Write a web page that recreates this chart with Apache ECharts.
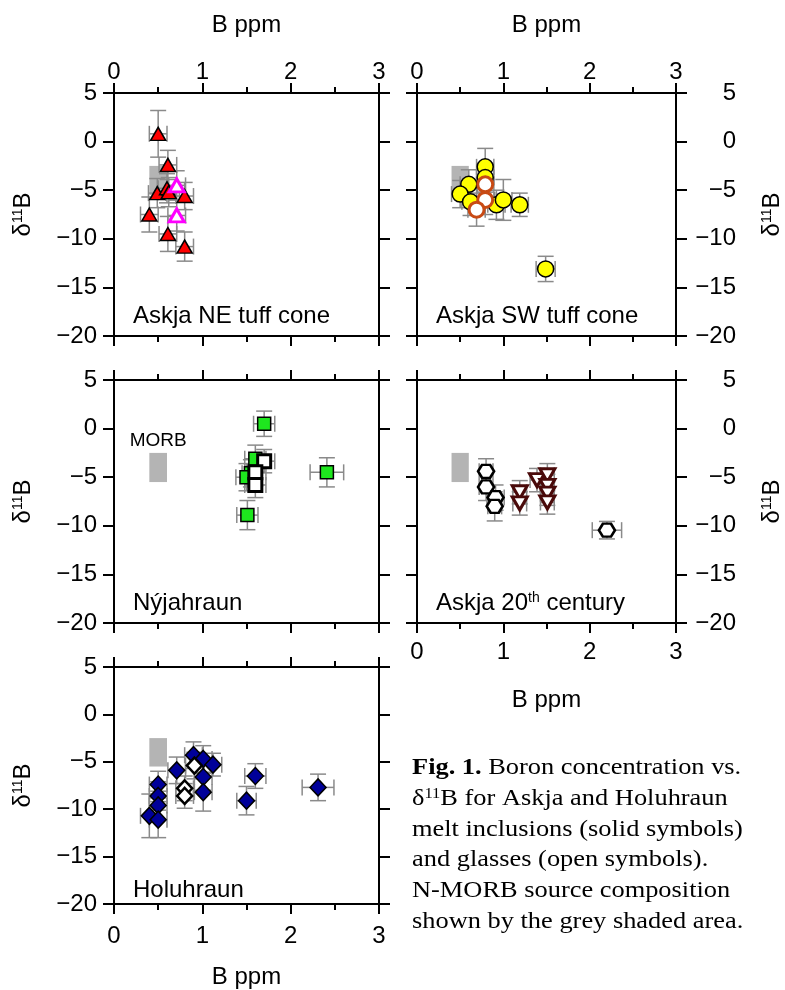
<!DOCTYPE html>
<html><head><meta charset="utf-8">
<script src="https://cdn.jsdelivr.net/npm/echarts@6/dist/echarts.min.js"></script>
<style>html,body{margin:0;padding:0;background:#fff}#c{width:785px;height:990px}</style>
</head><body><div id="c"></div><script>
// ---------- data ----------
const xTicks = [0, 1, 2, 3];
const yTicks = [5, 0, -5, -10, -15, -20];
// MORB source box: [Bmin, Bmax, d11Bmin, d11Bmax]
const morbBox = [[0.4, 0.6, -5.5, -2.5]];
// each point: [B ppm, d11B, B error, d11B error]
const neTuffSolid = [
  [0.50, 0.8, 0.10, 2.4], [0.61, -2.4, 0.10, 1.5], [0.49, -5.3, 0.10, 1.5],
  [0.60, -4.8, 0.10, 1.5], [0.62, -5.2, 0.12, 1.5], [0.80, -5.6, 0.10, 1.4],
  [0.40, -7.5, 0.10, 1.8], [0.61, -9.5, 0.10, 1.8], [0.80, -10.8, 0.10, 1.5]
];
const neTuffOpen = [[0.71, -4.5, 0.10, 1.5], [0.71, -7.6, 0.10, 1.6]];
const swTuffSolid = [
  [0.79, -2.6, 0.10, 1.9], [0.79, -3.7, 0.10, 1.5], [0.60, -4.4, 0.10, 1.5],
  [0.50, -5.4, 0.10, 1.4], [0.62, -6.2, 0.10, 1.4], [0.92, -6.5, 0.10, 1.5],
  [1.00, -6.0, 0.10, 2.1], [1.19, -6.5, 0.10, 1.2], [1.49, -13.1, 0.11, 1.3]
];
const swTuffOpen = [[0.79, -4.4, 0.10, 1.5], [0.79, -6.0, 0.10, 1.5], [0.69, -7.0, 0.10, 1.7]];
const nyjaSolid = [
  [1.70, 0.5, 0.12, 1.3], [1.60, -3.1, 0.12, 1.4], [1.55, -4.6, 0.10, 1.4],
  [1.50, -5.0, 0.12, 1.4], [2.41, -4.5, 0.19, 1.5], [1.51, -8.9, 0.12, 1.5]
];
const nyjaOpen = [[1.70, -3.35, 0.12, 1.2], [1.60, -4.5, 0.12, 1.4], [1.60, -5.8, 0.12, 1.3]];
const c20Glass = [
  [0.80, -4.4, 0.08, 1.3], [0.80, -6.0, 0.08, 1.4], [0.91, -7.1, 0.10, 1.3],
  [0.90, -8.0, 0.08, 1.5], [2.20, -10.45, 0.17, 0.9]
];
const c20Tri = [
  [1.19, -6.55, 0.08, 1.2], [1.19, -7.7, 0.08, 1.2], [1.39, -5.3, 0.08, 1.2],
  [1.51, -4.8, 0.08, 1.2], [1.51, -5.9, 0.08, 1.2], [1.51, -6.7, 0.08, 1.2],
  [1.51, -7.6, 0.08, 1.2]
];
const holuSolid = [
  [0.50, -7.4, 0.10, 1.4], [0.50, -8.6, 0.10, 1.5], [0.50, -9.6, 0.10, 1.5],
  [0.40, -10.7, 0.10, 2.3], [0.50, -11.1, 0.10, 1.9], [0.71, -5.9, 0.10, 1.4],
  [0.90, -4.3, 0.10, 1.4], [1.01, -4.7, 0.10, 1.4], [1.12, -5.3, 0.10, 1.2],
  [1.01, -6.6, 0.10, 1.4], [1.01, -8.2, 0.10, 2.0], [1.60, -6.5, 0.12, 1.3],
  [1.50, -9.1, 0.11, 1.5], [2.31, -7.7, 0.18, 1.4]
];
const holuOpen = [[0.91, -5.4, 0.10, 1.4], [0.80, -7.8, 0.10, 1.3], [0.80, -8.6, 0.10, 1.3]];

const captionLines = [
  '{b|Fig. 1.} Boron concentration vs.',
  'δ{s|11}B for Askja and Holuhraun',
  'melt inclusions (solid symbols)',
  'and glasses (open symbols).',
  'N-MORB source composition',
  'shown by the grey shaded area.'
];

// ---------- layout ----------
const FONT = 'Liberation Sans, Arial, Helvetica, sans-serif';
const FS = 24;
const W = 265, H = 243;
const panels = [
  {left: 114, top: 93, label: 'Askja NE tuff cone', xTop: true, xBottom: false, yLeft: true},
  {left: 417, top: 93, label: 'Askja SW tuff cone', xTop: true, xBottom: false, yLeft: false},
  {left: 114, top: 380, label: 'Nýjahraun', xTop: false, xBottom: false, yLeft: true, morbLabel: true},
  {left: 417, top: 380, label: '{n|Askja 20}{s|th}{n| century}', xTop: false, xBottom: true, yLeft: false, bGap: 65, bMargin: 17},
  {left: 114, top: 667, label: 'Holuhraun', xTop: false, xBottom: true, yLeft: true, bGap: 61, bMargin: 20}
];

const fmtY = v => (v < 0 ? '\u2212' + Math.abs(v) : String(v));
const fmtX = v => (xTicks.indexOf(v) >= 0 ? String(v) : '');
const lineSt = {color: '#000', width: 2};

const grids = [], xAxes = [], yAxes = [], series = [], graphics = [];
const yName = '{a|δ}{s|11}{a|B}';
const richName = {
  a: {fontSize: FS, fontFamily: FONT, color: '#000'},
  s: {fontSize: 14, fontFamily: FONT, color: '#000', verticalAlign: 'top', lineHeight: FS},
  n: {fontSize: FS, fontFamily: FONT, color: '#000'}
};

panels.forEach((p, g) => {
  grids.push({left: p.left, top: p.top, width: W, height: H, show: false});
  ['bottom', 'top'].forEach(pos => {
    const showLab = (pos === 'top' && p.xTop) || (pos === 'bottom' && p.xBottom);
    xAxes.push({
      gridIndex: g, type: 'value', position: pos, min: 0, max: 3, interval: 1,
      axisLine: {show: true, onZero: false, lineStyle: lineSt},
      axisTick: {show: true, inside: false, length: 10, lineStyle: {color: '#000', width: 2}},
      minorTick: {show: true, splitNumber: 2, length: 6, lineStyle: {color: '#000', width: 2}},
      splitLine: {show: false}, minorSplitLine: {show: false},
      axisLabel: {show: showLab, formatter: fmtX, fontSize: FS, fontFamily: FONT, color: '#000',
                  margin: pos === 'top' ? 9 : (p.bMargin || 14)},
      name: showLab ? 'B ppm' : '', nameLocation: 'middle',
      nameGap: pos === 'top' ? 56 : (p.bGap || 60),
      nameTextStyle: {fontSize: FS, fontFamily: FONT, color: '#000'}
    });
  });
  ['left', 'right'].forEach(pos => {
    const showLab = (pos === 'left') === p.yLeft;
    yAxes.push({
      gridIndex: g, type: 'value', position: pos, min: -20, max: 5, interval: 5,
      axisLine: {show: true, onZero: false, lineStyle: lineSt},
      axisTick: {show: true, inside: false, length: 11, lineStyle: {color: '#000', width: 2}},
      splitLine: {show: false},
      axisLabel: {show: showLab, formatter: fmtY, fontSize: FS, fontFamily: FONT, color: '#000',
                  align: 'right', margin: pos === 'left' ? 17 : 60},
      name: showLab ? yName : '', nameLocation: 'middle', nameRotate: 90,
      nameGap: pos === 'left' ? 79 : 84,
      nameTextStyle: {rich: richName}
    });
  });
  graphics.push({
    type: 'text', left: p.left + 19, top: p.top + H - 32, z: 100,
    style: {text: p.label, rich: richName, font: FS + 'px ' + FONT, fill: '#000'}
  });
});

function morbRender(showLabel) {
  return function (params, api) {
    const a = api.coord([api.value(0), api.value(3)]);
    const b = api.coord([api.value(1), api.value(2)]);
    const children = [{type: 'rect', shape: {x: a[0], y: a[1], width: b[0] - a[0], height: b[1] - a[1]},
                       style: {fill: '#b4b4b4'}}];
    if (showLabel) {
      children.push({type: 'text', style: {text: 'MORB', x: (a[0] + b[0]) / 2, y: a[1] - 3,
        align: 'center', verticalAlign: 'bottom', font: '19px ' + FONT, fill: '#000'}});
    }
    return {type: 'group', children};
  };
}
function errRender(params, api) {
  const x = api.value(0), y = api.value(1), ex = api.value(2), ey = api.value(3);
  const c = api.coord([x, y]);
  const l = api.coord([x - ex, y])[0], r = api.coord([x + ex, y])[0];
  const t = api.coord([x, y + ey])[1], b = api.coord([x, y - ey])[1];
  const cap = 8, st = {stroke: '#8a8a8a', lineWidth: 1.5};
  const ln = (x1, y1, x2, y2) => ({type: 'line', shape: {x1, y1, x2, y2}, style: st});
  return {type: 'group', children: [
    ln(l, c[1], r, c[1]), ln(l, c[1] - cap, l, c[1] + cap), ln(r, c[1] - cap, r, c[1] + cap),
    ln(c[0], t, c[0], b), ln(c[0] - cap, t, c[0] + cap, t), ln(c[0] - cap, b, c[0] + cap, b)
  ]};
}
function addPanelSeries(g, groups, morbLabel) {
  const ax = {xAxisIndex: 2 * g, yAxisIndex: 2 * g};
  series.push(Object.assign({type: 'custom', renderItem: morbRender(morbLabel), data: morbBox, z: 1,
    encode: {x: [0, 1], y: [2, 3]}, silent: true}, ax));
  const allPts = [].concat(...groups.map(s => s.data));
  series.push(Object.assign({type: 'custom', renderItem: errRender, data: allPts, z: 2,
    encode: {x: 0, y: 1}, silent: true}, ax));
  groups.forEach(s => {
    series.push(Object.assign({
      type: 'scatter', data: s.data.map(d => [d[0], d[1]]), z: 3,
      symbol: s.symbol, symbolSize: s.size, symbolRotate: s.rotate || 0,
      itemStyle: {color: s.fill, borderColor: s.stroke, borderWidth: s.bw, opacity: 1}
    }, ax));
  });
}
const HEX = 'path://M0,50L25,0L75,0L100,50L75,100L25,100Z';
addPanelSeries(0, [
  {data: neTuffSolid, symbol: 'triangle', size: [15, 13], fill: '#ff0000', stroke: '#000', bw: 1.5},
  {data: neTuffOpen, symbol: 'triangle', size: [15, 13], fill: '#fff', stroke: '#ff00ff', bw: 3}
]);
addPanelSeries(1, [
  {data: swTuffSolid, symbol: 'circle', size: 16, fill: '#ffff00', stroke: '#000', bw: 1.5},
  {data: swTuffOpen, symbol: 'circle', size: 15, fill: '#fff', stroke: '#c84a14', bw: 3}
]);
addPanelSeries(2, [
  {data: nyjaSolid, symbol: 'rect', size: 13, fill: '#1ee61e', stroke: '#000', bw: 1.5},
  {data: nyjaOpen, symbol: 'rect', size: 13, fill: '#fff', stroke: '#000', bw: 3}
], true);
addPanelSeries(3, [
  {data: c20Glass, symbol: HEX, size: [16, 13], fill: '#fff', stroke: '#000', bw: 2.5},
  {data: c20Tri, symbol: 'triangle', size: [15, 13], rotate: 180, fill: '#fff', stroke: '#4a0a0a', bw: 3}
]);
addPanelSeries(4, [
  {data: holuSolid, symbol: 'diamond', size: [16, 17], fill: '#000099', stroke: '#000', bw: 1.5},
  {data: holuOpen, symbol: 'diamond', size: [15, 16], fill: '#fff', stroke: '#000', bw: 2.5}
]);

const SERIF = 'Liberation Serif, Times New Roman, serif';
captionLines.forEach((t, i) => {
  graphics.push({
    type: 'text', x: 412, y: 756 + i * 30.7, scaleX: 1.1, z: 100,
    style: {text: t, font: '24px ' + SERIF, fill: '#000',
      rich: {b: {fontWeight: 'bold', fontSize: 24, fontFamily: SERIF, color: '#000'},
             s: {fontSize: 15, fontFamily: SERIF, color: '#000', verticalAlign: 'top', lineHeight: 24}}}
  });
});

const chart = echarts.init(document.getElementById('c'), null, {renderer: 'canvas'});
chart.setOption({
  animation: false, backgroundColor: '#fff',
  grid: grids, xAxis: xAxes, yAxis: yAxes, series: series, graphic: graphics
});
</script></body></html>
